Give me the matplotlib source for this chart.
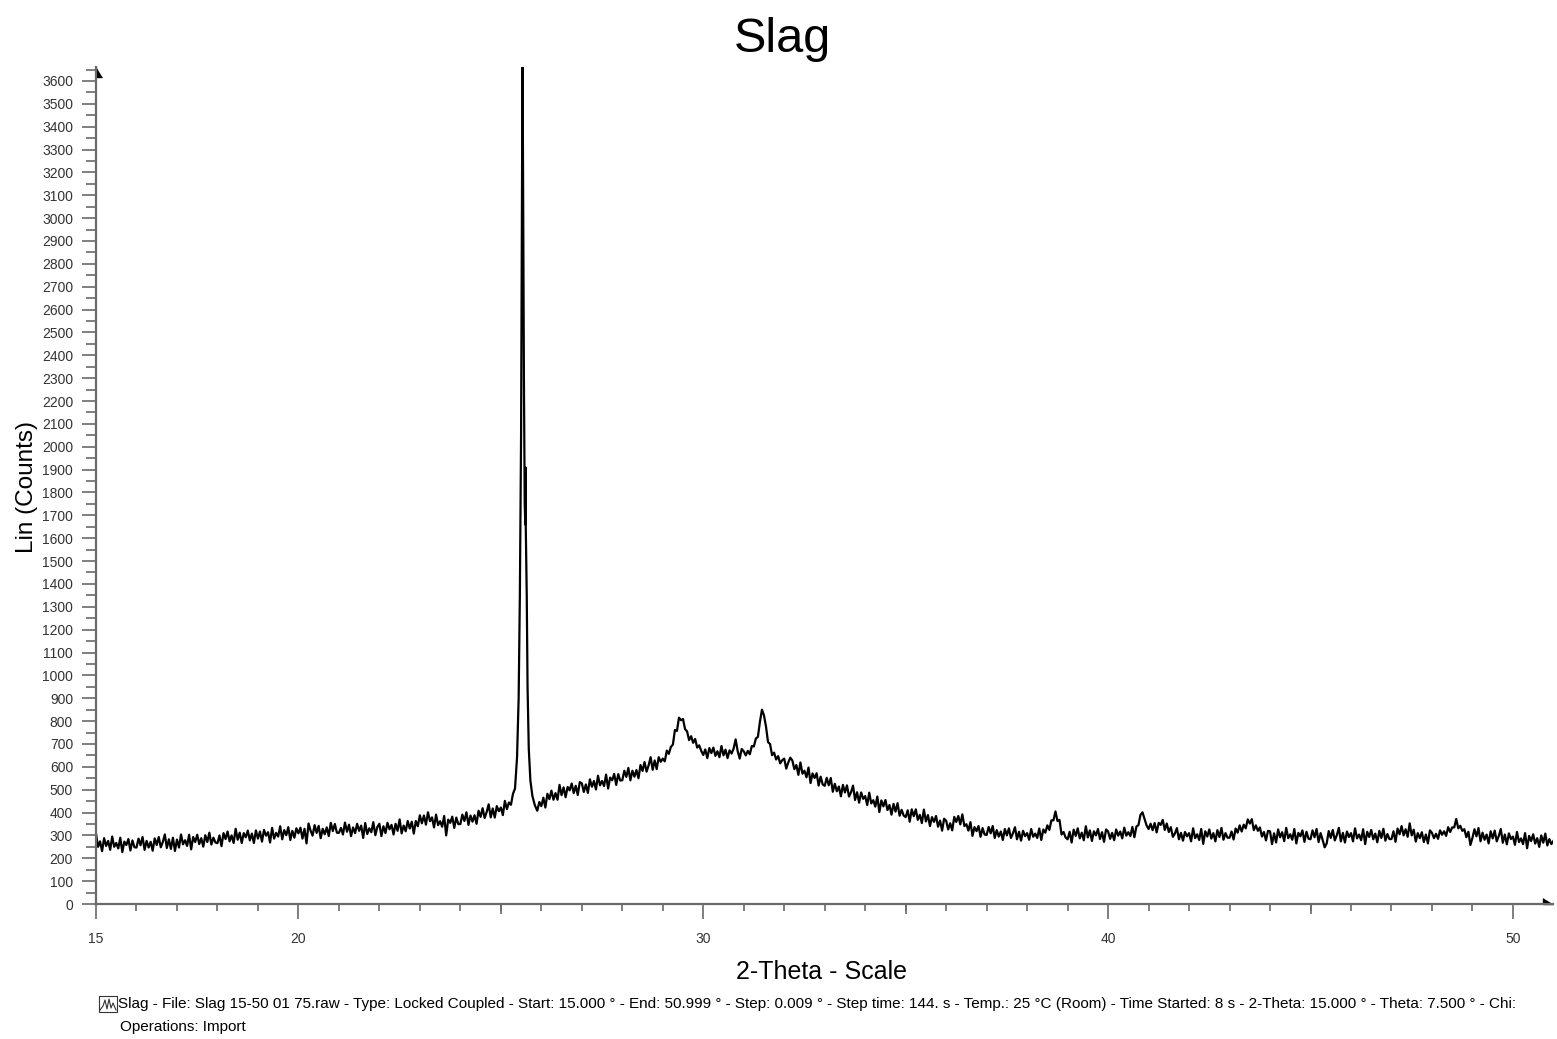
import numpy as np
import matplotlib
matplotlib.use("Agg")
from matplotlib import pyplot as plt
from matplotlib.patches import Rectangle
from matplotlib.lines import Line2D

plt.rcParams["font.family"] = ["Liberation Sans", "DejaVu Sans"]

# scan 15.00 .. 25.30 deg, 0.05 deg steps (one row per degree)
counts_low = [
    308, 250, 274, 231, 288, 254, 276, 237, 295, 250, 267, 243, 290, 227, 273, 258, 284, 234, 278, 248,
    247, 286, 257, 293, 237, 276, 247, 272, 233, 287, 258, 293, 248, 271, 304, 245, 283, 241, 290, 232,
    282, 247, 304, 261, 279, 254, 303, 239, 293, 271, 303, 262, 288, 251, 301, 271, 312, 260, 290, 269,
    266, 300, 253, 310, 284, 317, 274, 300, 267, 329, 281, 312, 267, 310, 292, 321, 278, 308, 267, 322,
    286, 317, 273, 324, 299, 314, 269, 333, 286, 311, 295, 340, 283, 323, 301, 336, 280, 320, 290, 331,
    309, 334, 286, 329, 265, 352, 321, 299, 345, 311, 342, 288, 329, 305, 335, 297, 355, 319, 350, 312,
    311, 333, 304, 356, 316, 347, 297, 335, 310, 351, 320, 343, 289, 354, 306, 331, 314, 358, 301, 337,
    351, 297, 340, 310, 355, 327, 346, 304, 351, 320, 370, 309, 343, 318, 363, 330, 360, 308, 363, 340,
    388, 353, 387, 347, 401, 362, 379, 335, 391, 345, 362, 338, 385, 300, 369, 355, 382, 333, 378, 349,
    350, 391, 363, 401, 346, 387, 360, 388, 351, 408, 381, 419, 376, 402, 436, 379, 418, 378, 428, 406,
    422, 389, 451, 415, 444, 434, 482,
]

# main reflection near 25.5 deg (with the K-alpha2 shoulder)
peak_theta = [25.35, 25.40, 25.44, 25.47, 25.50, 25.52, 25.535, 25.55, 25.57,
              25.59, 25.605, 25.61, 25.615, 25.64, 25.66, 25.69, 25.73, 25.78,
              25.84, 25.90, 25.95]
peak_counts = [505, 640, 900, 1350, 2050, 3050, 3700, 3150, 2300,
               1750, 1660, 1910, 1660, 1350, 950, 680, 540, 472,
               432, 408, 446]

# scan 26.00 .. 51.00 deg, 0.05 deg steps
counts_high = [
    428, 465, 422, 482, 459, 496, 456, 485, 456, 521, 476, 510, 467, 512, 497, 527, 485, 517, 477, 533,
    528, 490, 523, 486, 545, 513, 538, 501, 561, 519, 538, 516, 566, 505, 553, 541, 569, 521, 568, 540,
    541, 583, 556, 595, 541, 583, 557, 586, 550, 608, 582, 621, 579, 606, 642, 587, 628, 590, 642, 622,
    636, 624, 671, 657, 687, 697, 761, 757, 815, 804, 809, 765, 755, 717, 734, 705, 722, 684, 694, 670,
    652, 676, 638, 682, 660, 684, 648, 668, 642, 691, 650, 675, 638, 672, 658, 680, 720, 669, 636, 678,
    668, 650, 670, 655, 691, 689, 724, 731, 797, 850, 825, 776, 708, 700, 651, 662, 632, 647, 615, 629,
    636, 592, 619, 640, 628, 590, 608, 565, 619, 570, 583, 554, 597, 529, 571, 551, 572, 518, 557, 523,
    517, 552, 519, 551, 491, 526, 493, 514, 471, 521, 488, 519, 470, 489, 518, 455, 489, 443, 488, 460,
    472, 433, 487, 440, 454, 426, 470, 402, 453, 427, 455, 411, 433, 391, 438, 404, 441, 386, 412, 387,
    380, 410, 360, 414, 384, 414, 368, 390, 354, 413, 361, 389, 341, 380, 359, 385, 338, 365, 321, 373,
    364, 326, 353, 322, 381, 359, 385, 348, 392, 341, 349, 321, 358, 298, 336, 319, 341, 294, 332, 304,
    302, 337, 309, 341, 289, 323, 295, 317, 280, 328, 300, 331, 289, 309, 336, 283, 316, 277, 320, 297,
    310, 281, 328, 294, 308, 289, 330, 280, 326, 312, 344, 324, 366, 366, 405, 363, 368, 304, 315, 291,
    283, 316, 269, 325, 298, 331, 287, 312, 279, 340, 291, 322, 276, 318, 300, 328, 284, 314, 272, 326,
    317, 285, 311, 279, 326, 299, 317, 287, 334, 299, 314, 297, 337, 292, 339, 345, 390, 401, 372, 344,
    328, 351, 323, 354, 313, 355, 346, 368, 324, 352, 315, 336, 294, 308, 332, 283, 311, 277, 315, 296,
    310, 274, 331, 288, 305, 280, 328, 263, 318, 295, 326, 286, 310, 274, 323, 293, 333, 281, 310, 290,
    290, 317, 282, 330, 312, 344, 317, 347, 331, 370, 352, 371, 323, 344, 320, 335, 295, 315, 278, 320,
    318, 262, 309, 269, 326, 292, 314, 275, 333, 288, 305, 281, 328, 265, 311, 296, 322, 272, 316, 286,
    283, 322, 292, 328, 271, 310, 280, 248, 265, 319, 289, 324, 278, 301, 333, 274, 311, 269, 317, 293,
    310, 274, 331, 287, 304, 279, 327, 262, 316, 293, 324, 283, 308, 270, 320, 289, 329, 277, 306, 284,
    284, 318, 272, 330, 305, 341, 300, 327, 294, 353, 300, 325, 273, 310, 288, 314, 271, 304, 265, 322,
    311, 288, 307, 285, 322, 303, 318, 298, 336, 315, 335, 335, 372, 331, 342, 320, 327, 292, 316, 258,
    289, 327, 296, 332, 274, 312, 281, 304, 265, 318, 287, 321, 274, 297, 328, 268, 304, 261, 309, 284,
    295, 259, 315, 271, 287, 262, 310, 244, 298, 275, 305, 264, 288, 250, 300, 268, 308, 256, 284, 262,
    276,
]

assert len(counts_low) == 207 and len(counts_high) == 501

theta_low = np.round(15.0 + 0.05 * np.arange(len(counts_low)), 3)
theta_high = np.round(26.0 + 0.05 * np.arange(len(counts_high)), 3)
two_theta = np.concatenate([theta_low, peak_theta, theta_high])
counts = np.concatenate([counts_low, peak_counts, counts_high])

x_labelled = [15, 20, 30, 40, 50]
x_medium = [25, 35, 45]
y_ticks = np.arange(0, 3601, 100)

footer_1 = ("Slag - File: Slag 15-50 01 75.raw - Type: Locked Coupled - Start: 15.000 \u00b0 - "
            "End: 50.999 \u00b0 - Step: 0.009 \u00b0 - Step time: 144. s - Temp.: 25 \u00b0C (Room) - "
            "Time Started: 8 s - 2-Theta: 15.000 \u00b0 - Theta: 7.500 \u00b0 - Chi:")
footer_2 = "Operations: Import"

W, H = 1557, 1039
fig = plt.figure(figsize=(W / 100, H / 100), dpi=100)
ax = fig.add_axes([96 / W, 1 - 904 / H, 1457 / W, 837 / H])

ax.plot(two_theta, counts, color="black", lw=1.6)
ax.set_xlim(15, 50.99)
ax.set_ylim(0, 3661)

axis_grey = "#6a6a6a"
for s in ["top", "right"]:
    ax.spines[s].set_visible(False)
for s in ["left", "bottom"]:
    ax.spines[s].set_color(axis_grey)
    ax.spines[s].set_linewidth(1.6)

ax.set_xticks(x_labelled)
ax.set_xticks(np.arange(16, 51), minor=True)
ax.set_yticks(y_ticks)
ax.set_yticks(np.arange(50, 3651, 100), minor=True)
ax.tick_params(axis="x", which="major", length=10.5, width=1.2, color=axis_grey,
               labelsize=10, labelcolor="#333333", pad=10)
ax.tick_params(axis="x", which="minor", length=5, width=1.2, color=axis_grey)
ax.tick_params(axis="y", which="major", length=10, width=1.2, color=axis_grey,
               labelsize=10, labelcolor="#333333", pad=6.5)
ax.tick_params(axis="y", which="minor", length=7, width=1.2, color=axis_grey)

sec = ax.secondary_xaxis("bottom")
sec.set_xticks(x_medium)
sec.tick_params(length=7.5, width=1.2, color=axis_grey, labelbottom=False)
sec.spines["bottom"].set_visible(False)

# arrow heads at the ends of the axes
ax.plot([0], [1], transform=ax.transAxes, clip_on=False, color="black",
        marker=[(0, 0), (0, -1), (0.6, -1)], markersize=15, ls="none")
ax.plot([1], [0], transform=ax.transAxes, clip_on=False, color="black",
        marker=[(0, 0), (-1, 0), (-1, 0.55)], markersize=15, ls="none")

fig.text(782 / W, 1 - 52 / H, "Slag", fontsize=35, ha="center", va="baseline")
fig.text(27 / W, 1 - 487 / H, "Lin (Counts)", fontsize=17.5, rotation=90,
         ha="center", va="center")
fig.text(822 / W, 1 - 972 / H, "2-Theta - Scale", fontsize=18, ha="center", va="center")
fig.text(118 / W, 1 - 1004 / H, footer_1, fontsize=11, ha="left", va="center")
fig.text(120 / W, 1 - 1027 / H, footer_2, fontsize=11, ha="left", va="center")

# small scan icon in front of the footer
fig.add_artist(Rectangle((99 / W, 1 - 1012 / H), 18 / W, 16 / H, transform=fig.transFigure,
                         fill=False, ec="#333333", lw=0.8))
icon_x = np.array([100, 103, 105, 107, 109, 111, 113, 116]) / W
icon_y = 1 - np.array([1010, 1006, 1000, 1009, 999, 1008, 1003, 1010]) / H
fig.add_artist(Line2D(icon_x, icon_y, transform=fig.transFigure, color="#333333", lw=0.8))

fig.savefig("out.png", dpi=100)
